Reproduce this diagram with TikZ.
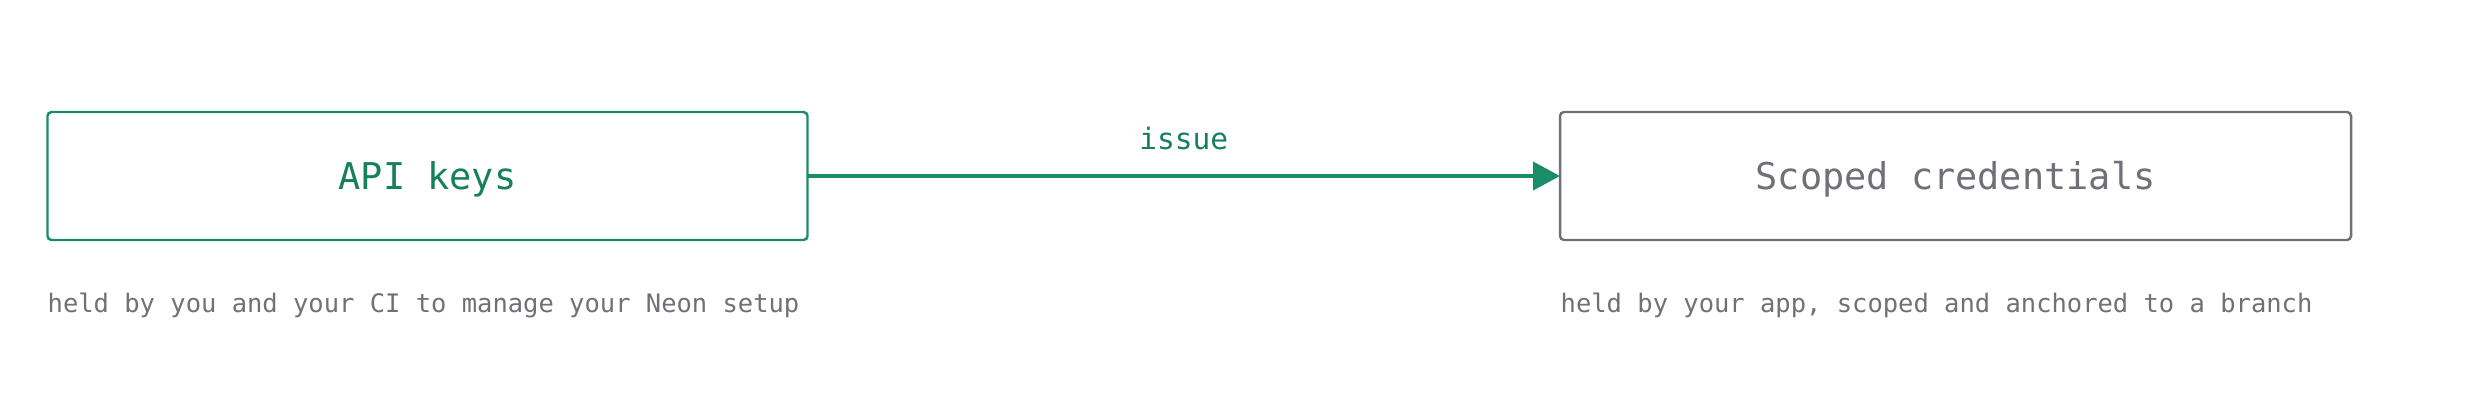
\documentclass[tikz,border=0pt]{standalone}
\usepackage{fontspec}
\setmonofont{DejaVu Sans Mono}
\usetikzlibrary{arrows.meta}
\definecolor{keygreen}{RGB}{27,140,104}
\definecolor{keytext}{RGB}{22,128,92}
\definecolor{credgray}{RGB}{112,112,120}
\begin{document}
\begin{tikzpicture}[
        font=\ttfamily,
        box/.style={draw, line width=0.7pt, rounded corners=0.04cm, inner sep=0pt, outer sep=0pt,
            minimum height=1.28cm, text height=0.27cm, text depth=0cm, font=\ttfamily\fontsize{10.5}{12}\selectfont},
        caption/.style={anchor=base west, inner sep=0pt, text=credgray, font=\ttfamily\fontsize{7.25}{9}\selectfont}
    ]
                \useasboundingbox (0,0) rectangle (24.8,4);
                \node[box, draw=keygreen, text=keytext, minimum width=7.6cm] (apikeys) at (4.275,2.24) {API keys};
                \node[box, draw=credgray, text=credgray, minimum width=7.91cm] (scoped) at (19.555,2.24) {Scoped credentials};
                \node[caption] (apinote) at (0.47,0.88) {held by you and your CI to manage your Neon setup};
                \node[caption] (scopednote) at (15.60,0.88) {held by your app, scoped and anchored to a branch};
                \draw[keygreen, line width=1.15pt, -{Triangle[length=0.27cm, width=0.28cm]}] (apikeys) -- node[midway, anchor=base, yshift=0.27cm, inner sep=0pt, text=keytext, font=\ttfamily\fontsize{8.4}{10}\selectfont] (issue) {issue} (scoped);
            \end{tikzpicture}
\end{document}
